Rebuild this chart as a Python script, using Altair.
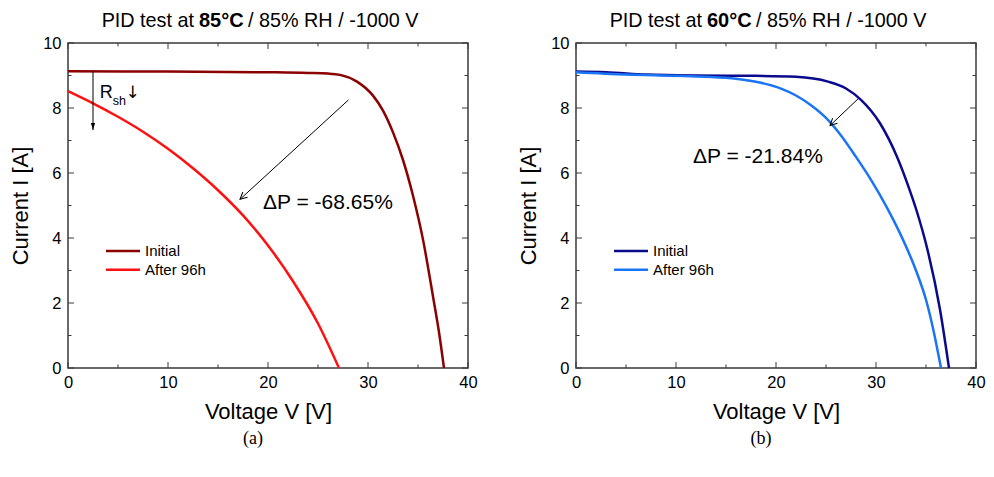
import altair as alt
import pandas as pd

# ---------------- data ----------------
series = ["Initial", "After 96h"]

# (a) PID test at 85°C
a_init_v = [0, 10, 20, 24, 26, 27.2, 28.9, 30.5, 31.5, 32.5, 33.5, 34.5, 35.5, 36.5, 37.1, 37.6]
a_init_i = [9.13, 9.12, 9.10, 9.08, 9.06, 9.02, 8.81, 8.38, 7.92, 7.25, 6.40, 5.30, 3.95, 2.20, 1.10, 0]
a_aged_v = [0, 2.5, 5, 7.5, 10, 12.5, 15, 17.5, 20, 22.5, 25, 27.1]
a_aged_i = [8.52, 8.145, 7.73, 7.27, 6.745, 6.145, 5.47, 4.695, 3.77, 2.67, 1.37, 0]

# (b) PID test at 60°C
b_init_v = [0, 3, 7, 12, 18, 22, 25.2, 27, 28.5, 30.4, 32.1, 33.2, 34.1, 35.1, 36.4, 37.3]
b_init_i = [9.12, 9.10, 9.03, 9.00, 8.99, 8.96, 8.81, 8.60, 8.25, 7.53, 6.50, 5.62, 4.80, 3.70, 1.80, 0]
b_aged_v = [0, 5, 10, 13, 16, 18.5, 20.5, 22, 23.5, 25, 26.5, 28, 29.5, 31, 32.5, 34, 35, 35.8, 36.5]
b_aged_i = [9.10, 9.03, 8.99, 8.96, 8.90, 8.775, 8.595, 8.385, 8.085, 7.695, 7.155, 6.495,
            5.79, 4.99, 4.08, 3.00, 2.10, 1.08, 0]

colors_a = ["#8B0000", "#FF1010"]
colors_b = ["#0A0A8C", "#1A74F5"]

x_major = [0, 10, 20, 30, 40]
x_minor = [5, 15, 25, 35]
y_major = [0, 2, 4, 6, 8, 10]
y_minor = [1, 3, 5, 7, 9]

title_pre = "PID test at"
title_bold_a = "85°C"
title_bold_b = "60°C"
title_post = "/ 85% RH / -1000 V"
dp_a = "ΔP = -68.65%"
dp_b = "ΔP = -21.84%"
x_title = "Voltage V [V]"
y_title = "Current I [A]"

# annotation anchor points (data coordinates)
dp_a_pos = (19.5, 5.08)
dp_b_pos = (11.7, 6.49)
arrow_a = (28.05, 8.25, 17.2, 5.19)
arrow_b = (28.2, 8.28, 25.4, 7.46)
rsh_arrow = (2.5, 9.12, 2.5, 7.32)
rsh_text_v = [3.18, 4.48]
rsh_text_i = [8.32, 8.08]
rsh_text = ["R", "sh"]
rsh_down = (5.75, 8.32, "↓")
legend_v = (3.8, 7.2, 7.7)
legend_i = [3.6, 3.02]

# ---------------- styling ----------------
W, H = 400, 325
FONT = "Liberation Sans"
FRAME = "#3a3a3a"
XS = alt.Scale(domain=[0, 40], nice=False, zero=False)
YS = alt.Scale(domain=[0, 10], nice=False, zero=False)
CHEVRON = "M-1,-0.5L0,0L-1,0.5"
TRI = "M-1,-0.3L0,0L-1,0.3Z"


def X(f):
    return alt.X(f"{f}:Q", scale=XS, title=x_title)


def Y(f):
    return alt.Y(f"{f}:Q", scale=YS, title=y_title)


def tick_layers():
    layers = []
    for vals, ln in ((x_major, 6), (x_minor, 3.5)):
        d = pd.DataFrame({"V": vals})
        base = alt.Chart(d).mark_rule(color=FRAME, strokeWidth=1)
        layers.append(base.encode(x=X("V"), y=alt.value(H), y2=alt.value(H - ln)))
        layers.append(base.encode(x=X("V"), y=alt.value(0), y2=alt.value(ln)))
    for vals, ln in ((y_major, 6), (y_minor, 3.5)):
        d = pd.DataFrame({"I": vals})
        base = alt.Chart(d).mark_rule(color=FRAME, strokeWidth=1)
        layers.append(base.encode(y=Y("I"), x=alt.value(0), x2=alt.value(ln)))
        layers.append(base.encode(y=Y("I"), x=alt.value(W), x2=alt.value(W - ln)))
    return layers


def panel(init_v, init_i, aged_v, aged_i, colors, bold, dp, dp_pos, arrow, caption, rsh):
    df = pd.DataFrame({
        "V": init_v + aged_v,
        "I": init_i + aged_i,
        "series": [series[0]] * len(init_v) + [series[1]] * len(aged_v),
    })
    color = alt.Color("series:N", scale=alt.Scale(domain=series, range=colors), legend=None)
    lines = alt.Chart(df).mark_line(strokeWidth=2.5, interpolate="monotone").encode(
        x=alt.X("V:Q", scale=XS, title=x_title,
                axis=alt.Axis(values=x_major, labelFlush=False)),
        y=alt.Y("I:Q", scale=YS, title=y_title,
                axis=alt.Axis(values=y_major, labelFlush=False)),
        color=color,
    )

    # legend drawn inside the plot
    leg = pd.DataFrame({"V": [legend_v[0]] * 2, "V2": [legend_v[1]] * 2,
                        "Vt": [legend_v[2]] * 2, "I": legend_i, "series": series})
    leg_lines = alt.Chart(leg).mark_rule(strokeWidth=2.5).encode(
        x=X("V"), x2="V2:Q", y=Y("I"), color=color)
    leg_text = alt.Chart(leg).mark_text(align="left", baseline="middle", font=FONT,
                                        fontSize=15, color="black").encode(
        x=X("Vt"), y=Y("I"), text="series:N")

    # delta-P arrow
    arr = pd.DataFrame({"V": [arrow[0]], "I": [arrow[1]], "V2": [arrow[2]], "I2": [arrow[3]]})
    arr_line = alt.Chart(arr).mark_rule(color="black", strokeWidth=1).encode(
        x=X("V"), y=Y("I"), x2="V2:Q", y2="I2:Q")
    ang = 138 if rsh else 136
    arr_head = alt.Chart(arr).mark_point(shape=CHEVRON, size=196, filled=False,
                                         color="black", strokeWidth=1, angle=ang,
                                         opacity=1).encode(x=X("V2"), y=Y("I2"))

    dpd = pd.DataFrame({"V": [dp_pos[0]], "I": [dp_pos[1]], "t": [dp]})
    dp_text = alt.Chart(dpd).mark_text(align="left", baseline="middle", font=FONT,
                                       fontSize=21, color="black").encode(
        x=X("V"), y=Y("I"), text="t:N")

    # title in three pieces (bold temperature)
    tdf = pd.DataFrame({"pre": [title_pre], "bold": [bold], "post": [title_post],
                        "cap": [caption]})
    t1 = alt.Chart(tdf).mark_text(align="right", baseline="alphabetic", font=FONT,
                                  fontSize=19.8, color="black").encode(
        x=alt.value(126), y=alt.value(-16), text="pre:N")
    t2 = alt.Chart(tdf).mark_text(align="left", baseline="alphabetic", font=FONT,
                                  fontSize=20, fontWeight="bold", color="black").encode(
        x=alt.value(131), y=alt.value(-16), text="bold:N")
    t3 = alt.Chart(tdf).mark_text(align="left", baseline="alphabetic", font=FONT,
                                  fontSize=19.8, color="black").encode(
        x=alt.value(180), y=alt.value(-16), text="post:N")
    cap = alt.Chart(tdf).mark_text(align="center", baseline="middle",
                                   font="Liberation Serif", fontSize=18, color="black").encode(
        x=alt.value(185), y=alt.value(H + 71), text="cap:N")

    layers = tick_layers() + [lines, leg_lines, leg_text, arr_line, arr_head, dp_text,
                              t1, t2, t3, cap]

    if rsh:
        ra = pd.DataFrame({"V": [rsh_arrow[0]], "I": [rsh_arrow[1]],
                           "V2": [rsh_arrow[2]], "I2": [rsh_arrow[3]]})
        layers.append(alt.Chart(ra).mark_rule(color="black", strokeWidth=1).encode(
            x=X("V"), y=Y("I"), x2="V2:Q", y2="I2:Q"))
        layers.append(alt.Chart(ra).mark_point(shape=TRI, size=196, filled=True,
                                               color="black", angle=90, opacity=1).encode(
            x=X("V2"), y=Y("I2")))
        rtx = pd.DataFrame({"V": rsh_text_v, "I": rsh_text_i, "t": rsh_text,
                            "s": ["big", "small"]})
        layers.append(alt.Chart(rtx).mark_text(align="left", baseline="alphabetic",
                                               font=FONT, color="black").encode(
            x=X("V"), y=Y("I"), text="t:N",
            size=alt.Size("s:N", scale=alt.Scale(domain=["big", "small"], range=[18, 12.5]),
                          legend=None)))
        rdn = pd.DataFrame({"V": [rsh_down[0]], "I": [rsh_down[1]], "t": [rsh_down[2]]})
        layers.append(alt.Chart(rdn).mark_text(align="left", baseline="alphabetic",
                                               font="DejaVu Sans", fontSize=17,
                                               color="black").encode(
            x=X("V"), y=Y("I"), text="t:N"))

    return alt.layer(*layers).properties(width=W, height=H)


pa = panel(a_init_v, a_init_i, a_aged_v, a_aged_i, colors_a, title_bold_a, dp_a,
           dp_a_pos, arrow_a, "(a)", True)
pb = panel(b_init_v, b_init_i, b_aged_v, b_aged_i, colors_b, title_bold_b, dp_b,
           dp_b_pos, arrow_b, "(b)", False)

chart = alt.hconcat(pa, pb, spacing=38).resolve_scale(color="independent").properties(
    padding={"left": 0, "top": 2, "right": 0, "bottom": 0}
).configure_view(
    stroke=FRAME, strokeWidth=1.5
).configure_axis(
    domain=False, ticks=False, tickSize=0, grid=False,
    labelFont=FONT, labelFontSize=16.5, labelColor="black",
    titleFont=FONT, titleFontSize=22, titleFontWeight="normal", titleColor="black",
).configure_axisX(labelPadding=6, titlePadding=11).configure_axisY(labelPadding=7, titlePadding=10)

chart.save("out.html", embed_options={"renderer": "svg", "actions": False})
